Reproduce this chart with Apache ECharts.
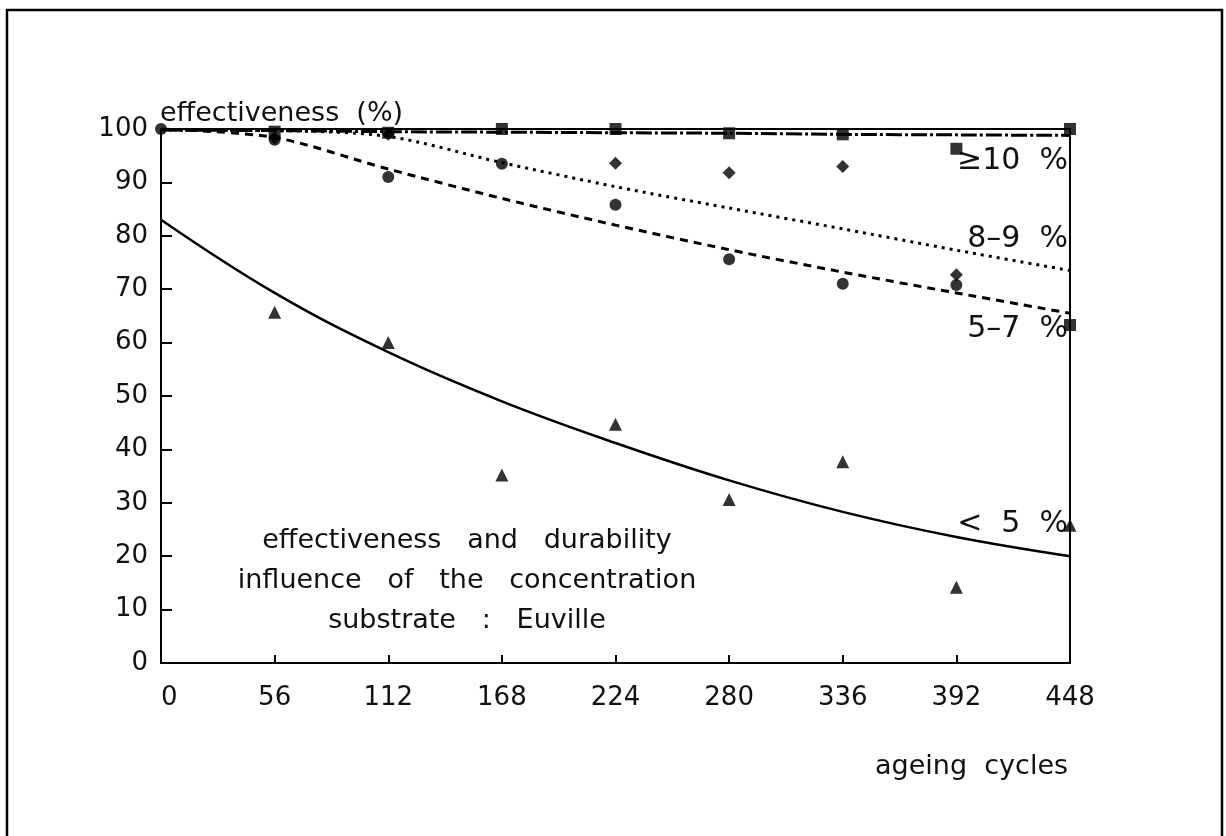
<!DOCTYPE html>
<html>
<head>
<meta charset="utf-8">
<script src="https://cdn.jsdelivr.net/npm/echarts@6/dist/echarts.min.js"></script>
<style>
  html, body { margin: 0; padding: 0; background: #fff; }
  #lines { width: 1226px; height: 836px; }
</style>
</head>
<body>
<div id="lines"></div>
<script>
// ageing cycles (x) and y tick labels
var cycles = [0, 56, 112, 168, 224, 280, 336, 392, 448];
var yTicks = [0, 10, 20, 30, 40, 50, 60, 70, 80, 90, 100];

// fitted curves
var fitGe10 = [99.8, 99.7, 99.5, 99.4, 99.3, 99.2, 99.0, 98.9, 98.8];
var fit89   = [99.8, 99.7, 98.6, 93.7, 89.2, 85.2, 81.3, 77.3, 73.5];
var fit57   = [100, 98.4, 92.5, 87.0, 82.0, 77.4, 73.2, 69.3, 65.5];
var fitLt5  = [83, 69.3, 58.2, 49.0, 41.2, 34.2, 28.3, 23.6, 20];

// measured points
var ptsGe10 = [null, 99.5, 99.3, 100, 100, 99.2, 99.0, 96.3, 100];
var pts89   = [null, 98.3, 99.0, null, 93.6, 91.8, 93.0, 72.7, null];
var pts57   = [100, 98.0, 91.0, 93.5, 85.8, 75.6, 71.0, 70.8, 63.3];
var ptsLt5  = [null, 65.7, 60.0, 35.2, 44.7, 30.6, 37.7, 14.2, 25.8];

var FONT = '"DejaVu Sans", sans-serif';
var INK = '#111';

function pairs(ys) {
    var out = [];
    for (var i = 0; i < cycles.length; i++) {
        if (ys[i] !== null) out.push([cycles[i], ys[i]]);
    }
    return out;
}

var myChart = echarts.init(document.getElementById('lines'));

var pts57Data = pairs(pts57).map(function (p) {
    // last point of this set is drawn as a square in the original
    return p[0] === 448 ? { value: p, symbol: 'rect', symbolSize: 12 } : p;
});

option = {
    animation: false,
    backgroundColor: '#fff',
    grid: {
        left: 161,
        right: 156,
        top: 129,
        bottom: 173,
        show: true,
        borderColor: '#000',
        borderWidth: 2
    },
    xAxis: {
        type: 'value',
        min: 0,
        max: 448,
        interval: 56,
        splitLine: { show: false },
        axisLine: { lineStyle: { color: '#000', width: 2 } },
        axisTick: { inside: true, length: 8, lineStyle: { color: '#000', width: 2 } },
        axisLabel: {
            color: INK,
            fontFamily: FONT,
            fontSize: 26,
            margin: 22,
            formatter: function (v) { return v === 0 ? '  0' : String(v); }
        }
    },
    yAxis: {
        type: 'value',
        min: 0,
        max: 100,
        interval: 10,
        splitLine: { show: false },
        axisLine: { lineStyle: { color: '#000', width: 2 } },
        axisTick: { inside: true, length: 11, lineStyle: { color: '#000', width: 2 } },
        axisLabel: {
            color: INK,
            fontFamily: FONT,
            fontSize: 26,
            margin: 13,
            formatter: function (v) { return yTicks.indexOf(v) >= 0 ? String(v) : ''; }
        }
    },
    graphic: [
        {
            type: 'rect',
            shape: { x: 7, y: 10, width: 1215, height: 900 },
            style: { fill: 'none', stroke: '#000', lineWidth: 2.5 },
            silent: true
        },
        {
            type: 'text', left: 160, top: 100,
            style: { text: 'effectiveness  (%)', font: '27px ' + FONT, fill: INK }
        },
        {
            type: 'text', left: 875, top: 753,
            style: { text: 'ageing  cycles', font: '27px ' + FONT, fill: INK }
        },
        {
            type: 'text', x: 467, y: 521,
            style: {
                text: 'effectiveness   and   durability\ninfluence   of   the   concentration\nsubstrate   :   Euville',
                font: '27px ' + FONT, fill: INK, align: 'center', lineHeight: 40
            }
        },
        { type: 'text', right: 158, top: 146, style: { text: '\u226510  %', font: '30px ' + FONT, fill: INK } },
        { type: 'text', right: 158, top: 224, style: { text: '8\u20139  %', font: '30px ' + FONT, fill: INK } },
        { type: 'text', right: 158, top: 314, style: { text: '5\u20137  %', font: '30px ' + FONT, fill: INK } },
        { type: 'text', right: 158, top: 509, style: { text: '<  5  %', font: '30px ' + FONT, fill: INK } }
    ],
    series: [
        {
            name: '>=10 fit', type: 'line', data: pairs(fitGe10), smooth: 0.3, showSymbol: false,
            lineStyle: { color: '#000', width: 3, type: [16, 3, 3, 3] }, z: 3
        },
        {
            name: '8-9 fit', type: 'line', data: pairs(fit89), smooth: 0.3, showSymbol: false,
            lineStyle: { color: '#000', width: 3, type: [3, 5] }
        },
        {
            name: '5-7 fit', type: 'line', data: pairs(fit57), smooth: 0.3, showSymbol: false,
            lineStyle: { color: '#000', width: 3, type: [8, 6] }
        },
        {
            name: '<5 fit', type: 'line', data: pairs(fitLt5), smooth: 0.4, showSymbol: false,
            lineStyle: { color: '#000', width: 2.5, type: 'solid' }
        },
        {
            name: '>=10', type: 'scatter', data: pairs(ptsGe10), symbol: 'rect', symbolSize: 12,
            itemStyle: { color: '#000' }, z: 5
        },
        {
            name: '8-9', type: 'scatter', data: pairs(pts89), symbol: 'diamond', symbolSize: 13,
            itemStyle: { color: '#000' }, z: 5
        },
        {
            name: '5-7', type: 'scatter', data: pts57Data, symbol: 'circle', symbolSize: 12,
            itemStyle: { color: '#000' }, z: 5
        },
        {
            name: '<5', type: 'scatter', data: pairs(ptsLt5), symbol: 'triangle', symbolSize: 13,
            itemStyle: { color: '#000' }, z: 5
        }
    ]
};

myChart.setOption(option);
</script>
</body>
</html>
